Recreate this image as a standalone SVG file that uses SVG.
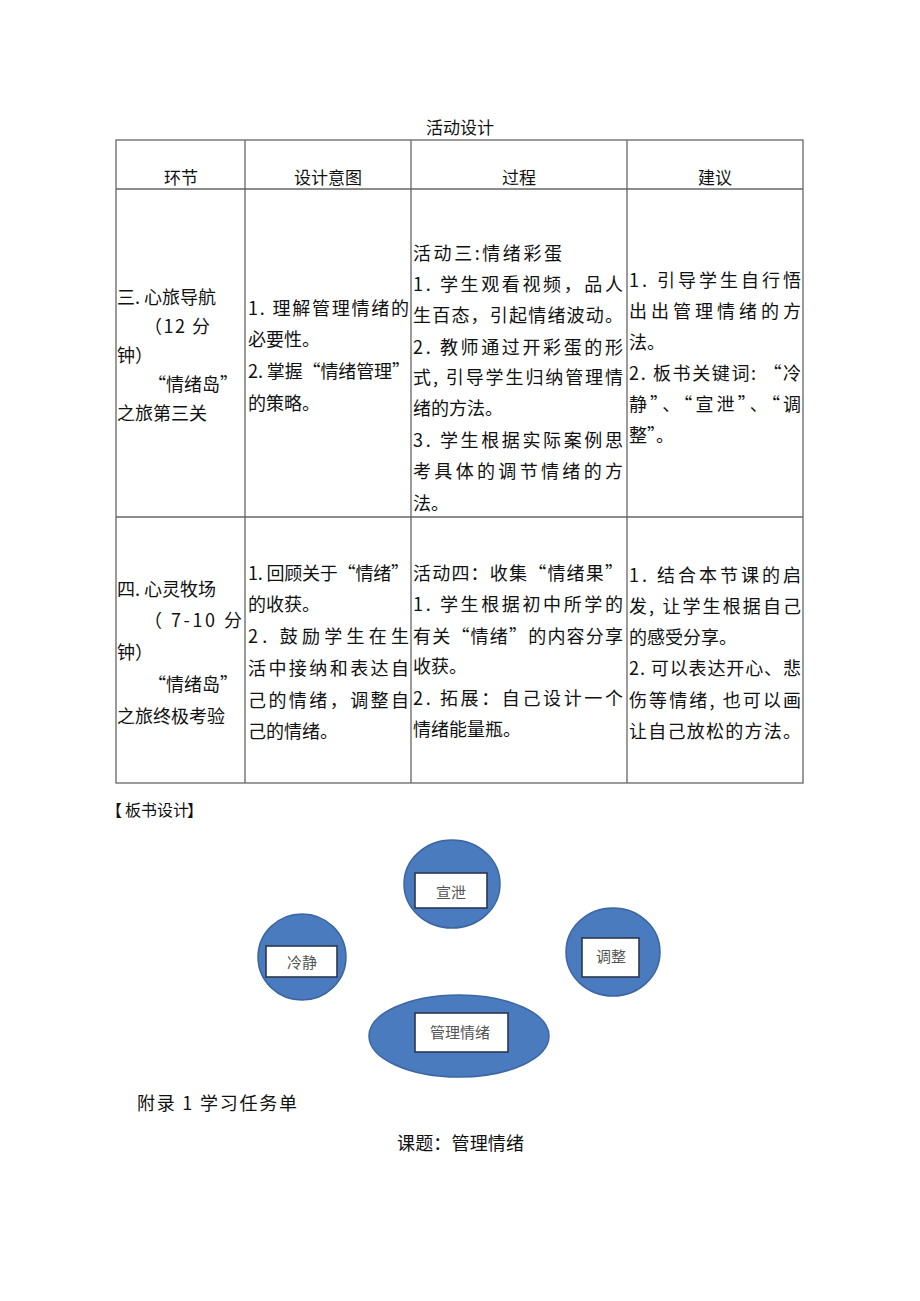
<svg xmlns="http://www.w3.org/2000/svg" width="920" height="1301" viewBox="0 0 920 1301">
<style>
text{font-family:"Noto Sans CJK SC","Liberation Sans",sans-serif;fill:#111;}
.t{font-size:18px;}
.h{font-size:17px;text-anchor:middle;}
.ln{stroke:#666;stroke-width:1.3;fill:none;}
.circ{fill:#4a7bbf;stroke:#3b66a3;stroke-width:1.5;}
.box{fill:#fff;stroke:#2b3850;stroke-width:1.6;}
.lab{font-size:15px;text-anchor:middle;fill:#555;}
.b{font-size:16px;}
</style>
<rect width="920" height="1301" fill="#fff"/>
<g id="title"><text class="h" x="460" y="134">活动设计</text></g>
<g id="table">
<rect class="ln" x="116" y="140" width="687" height="643"/>
<line class="ln" x1="116" y1="189" x2="803" y2="189"/>
<line class="ln" x1="116" y1="517" x2="803" y2="517"/>
<line class="ln" x1="245" y1="140" x2="245" y2="783"/>
<line class="ln" x1="411" y1="140" x2="411" y2="783"/>
<line class="ln" x1="627" y1="140" x2="627" y2="783"/>
<text class="h" x="181" y="184">环节</text>
<text class="h" x="328" y="184">设计意图</text>
<text class="h" x="519" y="184">过程</text>
<text class="h" x="715" y="184">建议</text>
</g>
<g id="row1" class="t">
<text class="t" x="117" y="304">三. 心旅导航</text>
<text class="t" x="144" y="333" textLength="66" lengthAdjust="spacing">（12 分</text>
<text class="t" x="117" y="362">钟）</text>
<text class="t" x="148" y="391">“情绪岛”</text>
<text class="t" x="117" y="420">之旅第三关</text>
<text class="t" x="248" y="315" textLength="161" lengthAdjust="spacing">1. 理解管理情绪的</text>
<text class="t" x="248" y="346">必要性。</text>
<text class="t" x="248" y="378" textLength="162" lengthAdjust="spacing">2. 掌握“情绪管理”</text>
<text class="t" x="248" y="410">的策略。</text>
<text class="t" x="413" y="260" textLength="149" lengthAdjust="spacing">活动三:情绪彩蛋</text>
<text class="t" x="413" y="291" textLength="210" lengthAdjust="spacing">1. 学生观看视频，品人</text>
<text class="t" x="413" y="322" textLength="210" lengthAdjust="spacing">生百态，引起情绪波动。</text>
<text class="t" x="413" y="354" textLength="210" lengthAdjust="spacing">2. 教师通过开彩蛋的形</text>
<text class="t" x="413" y="384" textLength="210" lengthAdjust="spacing">式, 引导学生归纳管理情</text>
<text class="t" x="413" y="415">绪的方法。</text>
<text class="t" x="413" y="447" textLength="210" lengthAdjust="spacing">3. 学生根据实际案例思</text>
<text class="t" x="413" y="478" textLength="210" lengthAdjust="spacing">考具体的调节情绪的方</text>
<text class="t" x="413" y="510">法。</text>
<text class="t" x="629" y="287" textLength="172" lengthAdjust="spacing">1. 引导学生自行悟</text>
<text class="t" x="629" y="318" textLength="172" lengthAdjust="spacing">出出管理情绪的方</text>
<text class="t" x="629" y="349">法。</text>
<text class="t" x="629" y="380" textLength="172" lengthAdjust="spacing">2. 板书关键词: “冷</text>
<text class="t" x="629" y="411" textLength="172" lengthAdjust="spacing">静”、“宣泄”、“调</text>
<text class="t" x="629" y="442">整”。</text>
</g>
<g id="row2">
<text class="t" x="117" y="596">四. 心灵牧场</text>
<text class="t" x="144" y="627" textLength="98" lengthAdjust="spacing">（ 7-10 分</text>
<text class="t" x="117" y="659">钟）</text>
<text class="t" x="148" y="691">“情绪岛”</text>
<text class="t" x="117" y="723">之旅终极考验</text>
<text class="t" x="248" y="580" textLength="161" lengthAdjust="spacing">1. 回顾关于“情绪”</text>
<text class="t" x="248" y="611">的收获。</text>
<text class="t" x="248" y="643" textLength="161" lengthAdjust="spacing">2. 鼓励学生在生</text>
<text class="t" x="248" y="675" textLength="161" lengthAdjust="spacing">活中接纳和表达自</text>
<text class="t" x="248" y="707" textLength="161" lengthAdjust="spacing">己的情绪，调整自</text>
<text class="t" x="248" y="738">己的情绪。</text>
<text class="t" x="413" y="580" textLength="210" lengthAdjust="spacing">活动四：收集“情绪果”</text>
<text class="t" x="413" y="611" textLength="210" lengthAdjust="spacing">1. 学生根据初中所学的</text>
<text class="t" x="413" y="643" textLength="210" lengthAdjust="spacing">有关“情绪”的内容分享</text>
<text class="t" x="413" y="673">收获。</text>
<text class="t" x="413" y="705" textLength="210" lengthAdjust="spacing">2. 拓展：自己设计一个</text>
<text class="t" x="413" y="736">情绪能量瓶。</text>
<text class="t" x="629" y="582" textLength="172" lengthAdjust="spacing">1. 结合本节课的启</text>
<text class="t" x="629" y="613" textLength="172" lengthAdjust="spacing">发, 让学生根据自己</text>
<text class="t" x="629" y="644">的感受分享。</text>
<text class="t" x="629" y="675" textLength="172" lengthAdjust="spacing">2. 可以表达开心、悲</text>
<text class="t" x="629" y="707" textLength="172" lengthAdjust="spacing">伤等情绪, 也可以画</text>
<text class="t" x="629" y="738" textLength="172" lengthAdjust="spacing">让自己放松的方法。</text>
</g>
<g id="heading-board">
<text class="b" x="106" y="816">【</text>
<text class="b" x="125" y="816">板书设计</text>
<text class="b" x="187" y="816">】</text>
</g>
<g id="connectors"></g>
<g id="node-xuanxie">
<ellipse class="circ" cx="452" cy="884" rx="48" ry="44"/>
<rect class="box" x="415" y="873" width="72" height="35"/>
<text class="lab" x="451" y="898">宣泄</text>
</g>
<g id="node-lengjing">
<ellipse class="circ" cx="302" cy="957" rx="44" ry="43"/>
<rect class="box" x="266" y="946" width="71" height="31"/>
<text class="lab" x="302" y="968">冷静</text>
</g>
<g id="node-tiaozheng">
<ellipse class="circ" cx="613" cy="952" rx="47" ry="44"/>
<rect class="box" x="582" y="938" width="57" height="39"/>
<text class="lab" x="611" y="962">调整</text>
</g>
<g id="node-guanli">
<ellipse class="circ" cx="459" cy="1036" rx="90" ry="41"/>
<rect class="box" x="415" y="1013" width="93" height="39"/>
<text class="lab" x="460" y="1038">管理情绪</text>
</g>
<g id="footer">
<text class="t" x="137" y="1110" textLength="160" lengthAdjust="spacing">附录 1 学习任务单</text>
<text class="t" x="397" y="1150" font-size="17" textLength="127" lengthAdjust="spacing">课题：管理情绪</text>
</g>
</svg>
